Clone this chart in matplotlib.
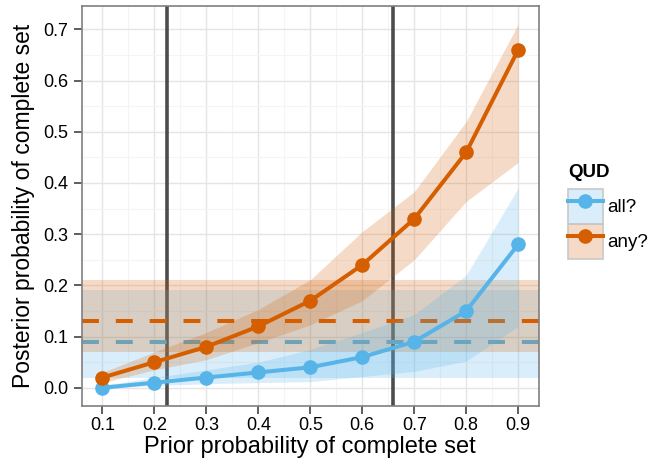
import matplotlib
matplotlib.use('Agg')
import matplotlib.pyplot as plt
from matplotlib.patches import Patch
from matplotlib.lines import Line2D
from matplotlib.legend_handler import HandlerTuple
import numpy as np

plt.rcParams['font.family'] = ['Liberation Sans', 'DejaVu Sans']

# prior probability of complete set
prior = [0.1, 0.2, 0.3, 0.4, 0.5, 0.6, 0.7, 0.8, 0.9]

# QUD "all?"
all_mean = [0.00, 0.01, 0.02, 0.03, 0.04, 0.06, 0.09, 0.15, 0.28]
all_lo = [0.0, 0.004, 0.008, 0.010, 0.012, 0.022, 0.032, 0.052, 0.12]
all_hi = [0.005, 0.02, 0.035, 0.05, 0.075, 0.108, 0.143, 0.22, 0.39]

# QUD "any?"
any_mean = [0.02, 0.05, 0.08, 0.12, 0.17, 0.24, 0.33, 0.46, 0.66]
any_lo = [0.01, 0.035, 0.055, 0.088, 0.123, 0.17, 0.25, 0.364, 0.44]
any_hi = [0.03, 0.07, 0.108, 0.153, 0.211, 0.305, 0.383, 0.52, 0.71]

# empirical estimates (horizontal lines + bands)
all_emp, all_emp_lo, all_emp_hi = 0.09, 0.02, 0.19
any_emp, any_emp_lo, any_emp_hi = 0.13, 0.07, 0.21

vlines = [0.225, 0.66]

BLUE = '#56B4E9'
ORANGE = '#D55E00'
RIB_ALPHA = 0.22

fig = plt.figure(figsize=(6.61, 4.65), dpi=100)
ax = fig.add_axes([0.1236, 0.127, 0.6918, 0.860])

xlim = (0.06, 0.94)
ax.set_xlim(*xlim)
ax.set_ylim(-0.0355, 0.7455)

# grid (theme_bw-like)
yt = np.arange(0, 0.71, 0.1)
ax.set_xticks(prior)
ax.set_yticks(yt)
ax.set_xticks(np.arange(0.15, 0.9, 0.1), minor=True)
ax.set_yticks(np.arange(0.05, 0.75, 0.1), minor=True)
ax.grid(True, which='major', color='#e5e5e5', lw=1.0, zorder=0)
ax.grid(True, which='minor', color='#f4f4f4', lw=0.8, zorder=0)
ax.set_axisbelow(True)

# vertical reference lines
for v in vlines:
    ax.axvline(v, color='#4d4d4d', lw=2.6, zorder=1)

# horizontal bands and dashed lines
ax.fill_between(xlim, all_emp_lo, all_emp_hi, color=BLUE, alpha=RIB_ALPHA, lw=0, zorder=2)
ax.plot(xlim, [all_emp, all_emp], color=BLUE, lw=2.9, dashes=(4.2, 4.2), zorder=2.1)
ax.fill_between(xlim, any_emp_lo, any_emp_hi, color=ORANGE, alpha=RIB_ALPHA, lw=0, zorder=2.2)
ax.plot(xlim, [any_emp, any_emp], color=ORANGE, lw=2.9, dashes=(4.2, 4.2), zorder=2.3)

# model ribbons and lines
ax.fill_between(prior, all_lo, all_hi, color=BLUE, alpha=RIB_ALPHA, lw=0, zorder=3)
ax.fill_between(prior, any_lo, any_hi, color=ORANGE, alpha=RIB_ALPHA, lw=0, zorder=3)
ax.plot(prior, all_mean, color=BLUE, lw=2.9, marker='o', ms=9.5, zorder=4)
ax.plot(prior, any_mean, color=ORANGE, lw=2.9, marker='o', ms=9.5, zorder=4)

for s in ax.spines.values():
    s.set_color('#7f7f7f')
    s.set_linewidth(1.2)

ax.tick_params(which='major', direction='out', length=5.5, width=1.1, color='#333333',
               labelsize=13, labelcolor='black')
ax.tick_params(axis='x', pad=2.5)
ax.tick_params(axis='y', pad=4)
ax.tick_params(which='minor', length=0)
ax.set_xticklabels([f'{v:.1f}' for v in prior])
ax.set_yticklabels([f'{v:.1f}' for v in yt])

ax.set_xlabel('Prior probability of complete set', fontsize=17)
ax.set_ylabel('Posterior probability of complete set', fontsize=16.5)
ax.xaxis.set_label_coords(0.5, -0.075)
ax.yaxis.set_label_coords(-0.102, 0.5)

# legend
handles = []
for col in [BLUE, ORANGE]:
    p = Patch(facecolor=col, alpha=RIB_ALPHA, edgecolor='none')
    b = Patch(facecolor='none', edgecolor='#c8c8c8', lw=1.2)
    l = Line2D([], [], color=col, lw=2.9, marker='o', ms=9.5)
    handles.append((p, b, l))
leg = fig.legend(handles, ['all?', 'any?'], title='QUD',
                 handler_map={tuple: HandlerTuple(ndivide=1, pad=0)},
                 loc='upper left', bbox_to_anchor=(0.859, 0.648),
                 frameon=False, fontsize=13.5, handlelength=1.87, handleheight=2.5,
                 labelspacing=0, handletextpad=0.25, borderpad=0, borderaxespad=0)
leg.get_title().set_fontweight('bold')
leg.get_title().set_fontsize(13.5)
leg._legend_box.align = 'left'
leg._legend_box.sep = 6

fig.savefig('out.png', dpi=100)
